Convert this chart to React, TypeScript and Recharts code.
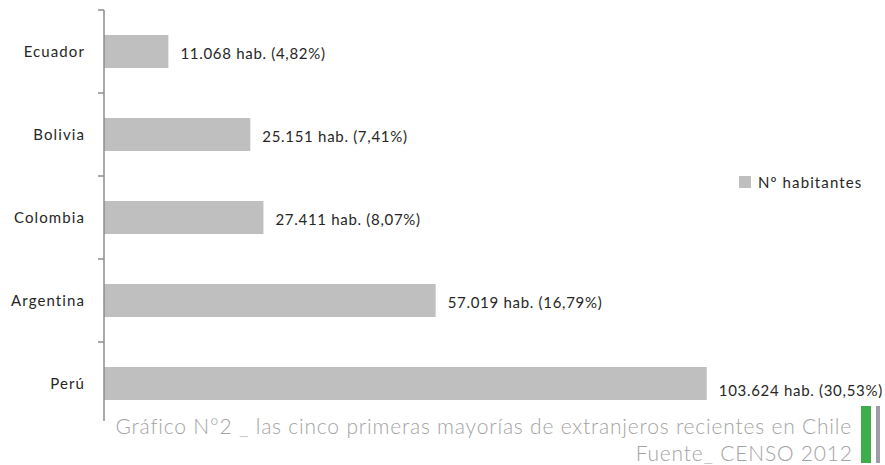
import React from 'react';
import { BarChart, Bar, XAxis, YAxis, Legend, LabelList } from 'recharts';

const categories = ['Ecuador', 'Bolivia', 'Colombia', 'Argentina', 'Perú'];
const habitantes = [11068, 25151, 27411, 57019, 103624];
const percents = [4.82, 7.41, 8.07, 16.79, 30.53];
const seriesName = 'Nº habitantes';
const captionLine1 = 'Gráfico N°2 _ las cinco primeras mayorías de extranjeros recientes en Chile';
const captionLine2 = 'Fuente_ CENSO 2012';

const data = categories.map((c, i) => ({ name: c, value: habitantes[i], pct: percents[i] }));

const W = 885;
const H = 465;
const MARGIN = { top: 10, right: 83, bottom: 40, left: 0 };
const FONT = 'Lato, "Open Sans", sans-serif';
const BAR_COLOR = '#bfbfbf';
const AXIS_COLOR = '#8c8c8c';
const TEXT_COLOR = '#262626';
const TICK_SIZE = 6;
const TICK_MARGIN = 13;

const fmtThousands = (n: number) => String(n).replace(/\B(?=(\d{3})+(?!\d))/g, '.');
const fmtPct = (p: number) => p.toFixed(2).replace('.', ',');

const CategoryTick = (props: any) => {
  const { x, y, payload } = props;
  const band = (H - MARGIN.top - MARGIN.bottom) / categories.length;
  const axisX = x + TICK_SIZE + TICK_MARGIN;
  return (
    <g>
      <text x={x} y={y} dy={5} textAnchor="end" fill={TEXT_COLOR} fontSize={15} fontWeight={400} fontFamily={FONT} letterSpacing={1.1}>
        {payload.value}
      </text>
      <line x1={axisX - TICK_SIZE} x2={axisX} y1={y - band / 2} y2={y - band / 2} stroke={AXIS_COLOR} strokeWidth={1.5} />
    </g>
  );
};

const ValueLabel = (props: any) => {
  const { x, y, width, height, index } = props;
  const d = data[index];
  const extra = index === data.length - 1 ? 8 : 3;
  return (
    <text x={x + width + 12} y={y + height / 2 + extra} dy={5} fill={TEXT_COLOR} fontSize={15} fontWeight={400} fontFamily={FONT} letterSpacing={0.7}>
      {`${fmtThousands(d.value)} hab. (${fmtPct(d.pct)}%)`}
    </text>
  );
};

const LegendContent = () => (
  <div style={{ display: 'flex', alignItems: 'center', fontFamily: FONT, fontSize: 15, color: TEXT_COLOR, letterSpacing: 1.1, whiteSpace: 'nowrap' }}>
    <span style={{ display: 'inline-block', width: 12, height: 12, background: BAR_COLOR, marginRight: 7 }} />
    <span>{seriesName}</span>
  </div>
);

export default function App() {
  return (
    <div style={{ position: 'absolute', left: 0, top: 0, width: W, height: H, background: '#fff', overflow: 'hidden' }}>
      <BarChart width={W} height={H} data={data} layout="vertical" margin={MARGIN} barCategoryGap="30%">
        <XAxis type="number" domain={[0, 120000]} hide />
        <YAxis
          type="category"
          dataKey="name"
          width={104}
          axisLine={{ stroke: AXIS_COLOR, strokeWidth: 1.5 }}
          tickLine={false}
          tickSize={TICK_SIZE}
          tickMargin={TICK_MARGIN}
          tick={<CategoryTick />}
          interval={0}
        />
        <Legend
          layout="horizontal"
          align="center"
          verticalAlign="middle"
          content={<LegendContent />}
          wrapperStyle={{ left: 739, top: 173, width: 146 }}
        />
        <Bar dataKey="value" name={seriesName} fill={BAR_COLOR} isAnimationActive={false}>
          <LabelList dataKey="value" content={<ValueLabel />} />
        </Bar>
      </BarChart>
      <div
        style={{
          position: 'absolute',
          left: 100,
          top: 421,
          width: 785,
          height: 44,
          background: '#fff',
        }}
      />
      <div
        style={{
          position: 'absolute',
          right: 885 - 852,
          top: 412,
          textAlign: 'right',
          fontFamily: FONT,
          fontWeight: 300,
          fontSize: 21,
          letterSpacing: 0.8,
          lineHeight: '27px',
          color: '#a3a3a3',
          whiteSpace: 'nowrap',
        }}
      >
        <div>{captionLine1}</div>
        <div style={{ marginRight: -0.8 }}>{captionLine2}</div>
      </div>
      <div style={{ position: 'absolute', left: 861, top: 406, width: 10, height: 57, background: '#3dae4a' }} />
      <div style={{ position: 'absolute', left: 876, top: 406, width: 4, height: 57, background: '#9d9da5' }} />
    </div>
  );
}
